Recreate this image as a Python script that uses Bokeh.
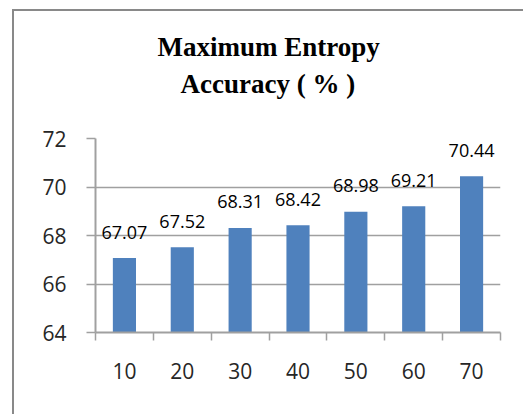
from bokeh.plotting import figure
from bokeh.models import Range1d, FixedTicker, Title
from bokeh.core.properties import value
from bokeh.embed import file_html
from bokeh.resources import INLINE

categories = ["10", "20", "30", "40", "50", "60", "70"]
accuracy = [67.07, 67.52, 68.31, 68.42, 68.98, 69.21, 70.44]
y_ticks = [64, 66, 68, 70, 72]
title_lines = ["Maximum Entropy", "Accuracy ( % )"]

n = len(categories)
centers = [i + 0.5 for i in range(n)]
bounds = [float(i) for i in range(n + 1)]
labels = ["%.2f" % v for v in accuracy]

GRAY = "#A0A0A0"
TXT = "#262626"

p = figure(width=509, height=403, x_range=Range1d(0, n), y_range=Range1d(y_ticks[0], y_ticks[-1]),
           output_backend="svg", toolbar_location=None, title=None,
           min_border_left=81, min_border_right=25, min_border_top=127, min_border_bottom=84)
p.styles = {"box-sizing": "content-box", "margin-left": "12px", "margin-top": "9px",
            "border-left": "2px solid #898989", "border-top": "2px solid #898989"}
p.outline_line_color = None
p.background_fill_color = "white"
p.border_fill_color = "white"

p.vbar(x=centers, top=accuracy, bottom=y_ticks[0], width=0.4, fill_color="#4F81BD", line_color=None)
p.text(x=centers, y=accuracy, text=labels, text_align="center", text_baseline="alphabetic",
       y_offset=-26, text_font=value("Open Sans"), text_font_size="18px", text_color="#000000")

xa = p.xaxis[0]
xa.ticker = FixedTicker(ticks=centers, minor_ticks=bounds)
xa.major_label_overrides = {c: l for c, l in zip(centers, categories)}
xa.major_tick_out = 0
xa.major_tick_in = 0
xa.minor_tick_out = 8
xa.minor_tick_in = 0
xa.minor_tick_line_color = GRAY
xa.minor_tick_line_width = 1.5
xa.axis_line_color = GRAY
xa.axis_line_width = 2
xa.major_label_standoff = 22
xa.major_label_text_font = "Open Sans"
xa.major_label_text_font_size = "21px"
xa.major_label_text_color = TXT

ya = p.yaxis[0]
ya.ticker = FixedTicker(ticks=y_ticks, minor_ticks=[])
ya.major_tick_out = 9
ya.major_tick_in = 0
ya.major_tick_line_color = GRAY
ya.major_tick_line_width = 1.5
ya.axis_line_color = GRAY
ya.axis_line_width = 2
ya.major_label_standoff = 20
ya.major_label_text_font = "Open Sans"
ya.major_label_text_font_size = "21px"
ya.major_label_text_color = TXT

p.xgrid.grid_line_color = None
p.ygrid.ticker = FixedTicker(ticks=y_ticks[1:])
p.ygrid.grid_line_color = GRAY
p.ygrid.grid_line_width = 1.5

# titles stack outward from the frame: spacer, line 2, line 1
spacer = Title(text=" ", align="left", standoff=24,
               text_font="Liberation Serif", text_font_size="10px", text_color="#FFFFFF")
t2 = Title(text=title_lines[1], align="left", offset=85, standoff=5,
           text_font="Liberation Serif", text_font_style="bold", text_font_size="27px", text_color="#000000")
t1 = Title(text=title_lines[0], align="left", offset=62, standoff=5,
           text_font="Liberation Serif", text_font_style="bold", text_font_size="27px", text_color="#000000")
p.add_layout(spacer, "above")
p.add_layout(t2, "above")
p.add_layout(t1, "above")

open("out.html", "w").write(file_html(p, INLINE))
